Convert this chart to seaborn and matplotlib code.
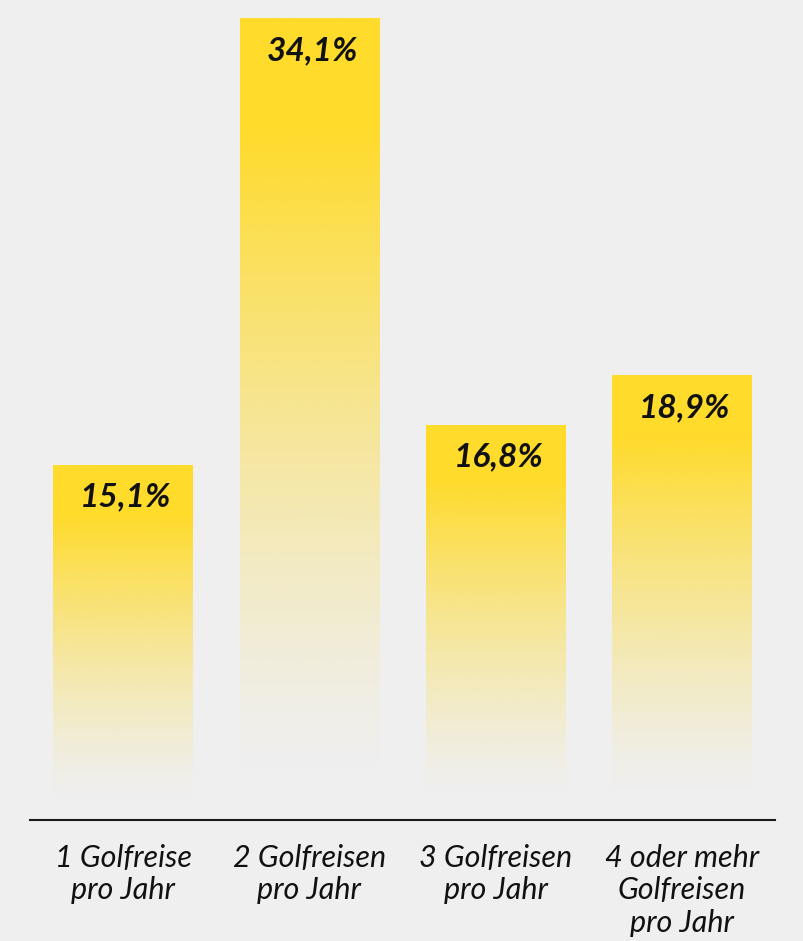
#!/usr/bin/env python
"""
Golf trips per year - bar chart with yellow fading bars.
"""

import numpy as np
import pandas as pd
import matplotlib
matplotlib.use('Agg')
import matplotlib.pyplot as plt
import matplotlib.colors as mcolors
import seaborn as sns

categories = ['1 Golfreise\npro Jahr', '2 Golfreisen\npro Jahr',
              '3 Golfreisen\npro Jahr', '4 oder mehr\nGolfreisen\npro Jahr']
values = [15.1, 34.1, 16.8, 18.9]
value_labels = ['15,1%', '34,1%', '16,8%', '18,9%']

BG = '#efefef'
YELLOW = '#ffdb2b'


def main():
    sns.set_theme(style='white')
    plt.rcParams['font.family'] = ['Lato', 'DejaVu Sans']

    df = pd.DataFrame({'Kategorie': categories, 'Anteil': values})

    fig = plt.figure(figsize=(8.04, 9.41), dpi=100, facecolor=BG)
    ax = fig.add_axes([30 / 804, 121 / 941, 745 / 804, 820 / 941])
    ax.set_facecolor(BG)

    sns.barplot(data=df, x='Kategorie', y='Anteil', width=0.75,
                color=YELLOW, ax=ax)

    # replace flat fill by a vertical fade (solid on top, transparent at bottom)
    rgb = mcolors.to_rgb(YELLOW)
    n = 256
    t = np.linspace(0, 1, n)  # 0 = top of bar, 1 = bottom
    alpha = np.clip(1 - (t - 0.14) / 0.80, 0, 1) ** 1.3
    grad = np.zeros((n, 1, 4))
    grad[:, 0, :3] = rgb
    grad[:, 0, 3] = alpha

    for patch in ax.patches:
        x0 = patch.get_x()
        w = patch.get_width()
        h = patch.get_height()
        patch.set_alpha(0)
        ax.imshow(grad, extent=[x0, x0 + w, 0, h], origin='upper',
                  aspect='auto', zorder=2, interpolation='bilinear')

    for i, (v, lab) in enumerate(zip(values, value_labels)):
        ax.annotate(lab, xy=(i, v), xytext=(2, -23), textcoords='offset points',
                    ha='center', va='center', fontsize=24, fontweight='bold',
                    fontstyle='italic', color='#111111', zorder=3)

    ax.set_xlim(-0.5, 3.5)
    ax.set_ylim(0, 820 / 23.5)

    for side in ['top', 'right', 'left']:
        ax.spines[side].set_visible(False)
    ax.spines['bottom'].set_color('#1a1a1a')
    ax.spines['bottom'].set_linewidth(1.5)

    ax.set_yticks([])
    ax.set_xlabel('')
    ax.set_ylabel('')
    ax.tick_params(axis='x', length=0, pad=17)
    for tl in ax.get_xticklabels():
        tl.set_fontsize(22)
        tl.set_fontstyle('italic')
        tl.set_color('#111111')
        tl.set_multialignment('center')
        tl.set_linespacing(1.2)

    plt.savefig('out.png', dpi=100, facecolor=BG)
    plt.close()


if __name__ == '__main__':
    main()
